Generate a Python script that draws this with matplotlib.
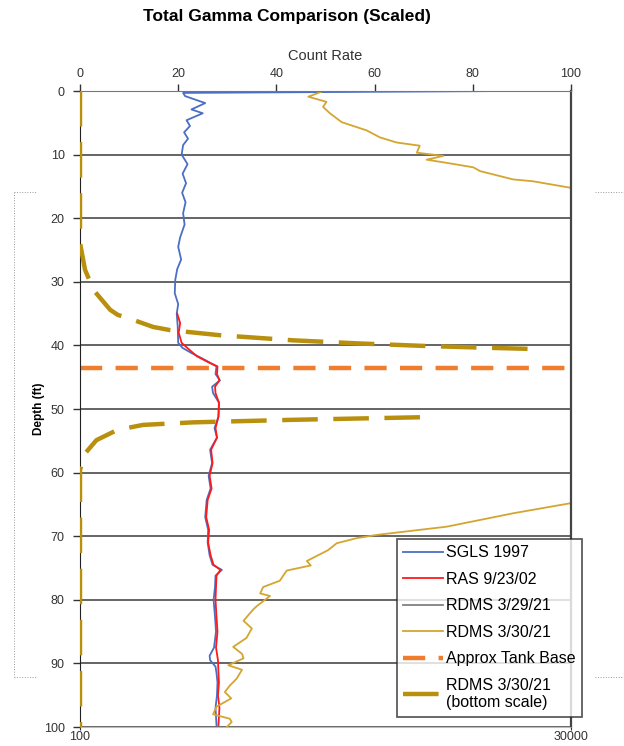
import numpy as np
import matplotlib
matplotlib.use('Agg')
import matplotlib.pyplot as plt
from matplotlib.lines import Line2D

plt.rcParams['font.family'] = ['Liberation Sans', 'DejaVu Sans']

# SGLS 1997 (count rate vs depth)
sgls_depth = [0.0, 0.3, 0.8, 1.9, 2.9, 3.5, 4.6, 5.5, 6.5, 7.5, 8.5, 10.0, 11.5, 13.0,
              14.5, 16.0, 17.5, 19.2, 21.0, 23.0, 24.5, 26.5, 28.0, 29.7, 31.8, 33.5,
              35.0, 37.0, 39.6, 40.4, 41.2, 42.3, 43.3, 44.5, 45.5, 46.5, 47.5, 49.0,
              51.2, 53.0, 54.5, 56.4, 58.5, 60.5, 62.5, 64.3, 67.0, 69.0, 71.0, 73.0,
              74.5, 75.3, 76.2, 78.0, 80.0, 82.7, 85.0, 87.5, 88.8, 89.5, 90.5, 91.5,
              93.0, 95.0, 97.0, 99.7]
sgls_count = [87.0, 21.0, 21.4, 25.5, 22.7, 25.0, 21.7, 22.4, 21.2, 22.0, 21.0, 20.7, 21.9,
              20.9, 21.6, 20.8, 21.5, 21.0, 21.3, 20.4, 20.0, 20.6, 19.8, 19.4, 19.3, 20.0,
              19.7, 19.9, 20.0, 20.9, 22.7, 25.5, 27.8, 27.6, 28.5, 26.9, 27.1, 28.3,
              28.2, 27.4, 27.9, 26.5, 26.9, 26.2, 26.6, 25.8, 25.5, 26.1, 26.0, 26.4,
              27.0, 28.9, 27.6, 27.5, 27.2, 27.5, 27.7, 27.3, 26.4, 26.5, 27.6, 27.8,
              28.0, 27.9, 27.6, 27.8]

# RAS 9/23/02
ras_depth = [35.0, 36.5, 38.0, 39.6, 40.5, 41.7, 42.6, 43.3, 44.5, 45.5, 46.5, 47.5, 49.0,
             51.2, 53.0, 54.5, 56.4, 58.5, 60.5, 62.5, 64.3, 67.0, 69.0, 71.0, 73.0,
             74.5, 75.3, 76.2, 78.0, 80.0, 82.7, 85.0, 87.5, 89.5, 91.5, 93.0, 95.0,
             97.0, 99.7]
ras_count = [19.8, 20.4, 20.1, 20.7, 22.0, 23.8, 26.0, 28.0, 27.9, 28.4, 27.5, 27.6, 28.3,
             28.2, 27.6, 27.9, 26.7, 27.0, 26.4, 26.8, 26.0, 25.7, 26.3, 26.1, 26.6,
             27.2, 28.6, 27.8, 27.7, 27.6, 27.8, 28.0, 27.7, 28.1, 28.2, 28.3, 28.1,
             28.4, 28.2]

# RDMS 3/29/21
rdms29_depth = [0.0, 0.0]
rdms29_count = [87.0, 100.0]

# RDMS 3/30/21 (top scale)
rdms30_depth = [0.1, 0.9, 1.7, 2.5, 3.5, 4.9, 6.2, 7.3, 8.1, 8.6, 9.7, 10.2, 10.8, 11.3,
                12.0, 12.6, 13.9, 14.2, 15.2, np.nan,
                64.8, 66.4, 68.5, 69.8, 70.3, 71.1, 72.2, 72.6, 73.9, 74.6, 75.4, 77.0,
                78.0, 79.0, 79.4, 81.0, 81.5, 83.3, 84.5, 86.0, 87.4, 88.5, 89.2, 90.3,
                91.0, 92.4, 93.5, 94.5, 95.5, 96.8, 98.0, 98.7, 99.2, 100.0]
rdms30_count = [49.2, 46.5, 50.2, 49.5, 50.9, 53.3, 58.4, 61.1, 64.5, 69.2, 68.6, 74.0, 70.6,
                74.7, 80.1, 81.5, 88.2, 92.3, 99.8, np.nan,
                100.0, 88.2, 74.7, 60.4, 56.4, 52.3, 50.5, 49.5, 46.2, 47.0, 42.1, 40.7,
                37.3, 36.7, 38.7, 36.0, 35.3, 33.3, 35.0, 33.9, 31.2, 33.0, 33.3, 30.2,
                33.0, 31.9, 30.5, 29.5, 30.8, 27.8, 27.1, 30.5, 30.9, 29.9]

# Approx Tank Base
tank_depth = [43.5, 43.5]
tank_count = [0, 100]

# RDMS 3/30/21 (bottom scale, log)
rdms30b_depth = [0.0, 10.0, 20.0, 23.9, 28.1, 31.3, 34.4, 35.2, 36.0, 37.1, 37.6, 38.4,
                 39.2, 39.7, 40.1, 40.4, 40.6, np.nan,
                 51.3, 51.7, 52.1, 52.5, 53.3, 54.9, 57.0, 59.6, 65.0, 80.0, 100.0]
rdms30b_value = [100, 100, 100, 100, 106, 117, 142, 155, 186, 234, 285, 508,
                 1187, 2590, 5640, 12130, 21680, np.nan,
                 5190, 1187, 372, 208, 154, 121, 106, 100, 100, 100, 100]

fig = plt.figure(figsize=(6.24, 7.46), dpi=100)
ax = fig.add_axes([80/624, 1-727/746, 491/624, 636/746])

ax.plot(sgls_count, sgls_depth, color='#4a6fc4', lw=1.3, label='SGLS 1997')
ax.plot(ras_count, ras_depth, color='#ff1a1a', lw=1.3, label='RAS 9/23/02')
ax.plot(rdms29_count, rdms29_depth, color='#808080', lw=1.3, label='RDMS 3/29/21')
ax.plot(rdms30_count, rdms30_depth, color='#d4a530', lw=1.3, label='RDMS 3/30/21')
ax.plot(tank_count, tank_depth, color='#f07d2e', lw=3.2, dashes=(5.0, 3.0),
        label='Approx Tank Base')

# bottom (log) scale for the long RDMS run
ax2 = ax.twiny()
ax2.set_xscale('log')
ax2.plot(rdms30b_value, rdms30b_depth, color='#b8900e', lw=3.2, dashes=(8, 3.5),
         label='RDMS 3/30/21\n(bottom scale)')
ax2.set_xlim(100, 30000)
ax2.set_ylim(100, 0)
ax2.xaxis.tick_bottom()
ax2.set_xticks([100, 30000])
ax2.set_xticklabels(['100', '30000'])
ax2.minorticks_off()
ax2.tick_params(axis='x', labelsize=9, colors='#333333', length=2, pad=1)
for s in ax2.spines.values():
    s.set_visible(False)

ax.set_xlim(0, 100)
ax.set_ylim(100, 0)
ax.set_yticks(np.arange(0, 101, 10))
ax.set_xticks(np.arange(0, 101, 20))
ax.grid(axis='y', color='#3a3a3a', lw=1.1)
ax.set_axisbelow(True)
ax.xaxis.tick_top()
ax.xaxis.set_label_position('top')
ax.set_xlabel('Count Rate', fontsize=10.5, color='#333333', labelpad=6)
ax.set_ylabel('Depth (ft)', fontsize=8.5, fontweight='bold')
ax.yaxis.set_label_coords(-35/491, 0.5)
ax.tick_params(axis='both', labelsize=9, colors='#333333', length=5, width=1, pad=6)
ax.tick_params(axis='x', pad=3)
ax.spines['left'].set_color('#222222')
ax.spines['right'].set_color('#444444')
ax.spines['right'].set_linewidth(1.6)
ax.spines['top'].set_color('#777777')
ax.spines['bottom'].set_color('#bbbbbb')

h1, l1 = ax.get_legend_handles_labels()
h2, l2 = ax2.get_legend_handles_labels()
leg = fig.legend(h1 + h2, l1 + l2, loc='upper left',
                 bbox_to_anchor=(397/624, 1-539/746), frameon=True, fancybox=False,
                 edgecolor='#222222', fontsize=11.5, handlelength=2.5, handletextpad=0.15,
                 labelspacing=0.72, borderpad=0.4, borderaxespad=0)
leg.get_frame().set_linewidth(1.2)

fig.text(287/624, 1-17/746, 'Total Gamma Comparison (Scaled)', ha='center', va='center',
         fontsize=12.5, fontweight='bold')

# dotted bracket marks around the figure
dot = dict(color='#999999', lw=0.7, ls=':', transform=fig.transFigure)
fig.add_artist(Line2D([14/624, 14/624], [1-192/746, 1-677/746], **dot))
fig.add_artist(Line2D([14/624, 36/624], [1-192/746, 1-192/746], **dot))
fig.add_artist(Line2D([14/624, 36/624], [1-677/746, 1-677/746], **dot))
fig.add_artist(Line2D([595/624, 624/624], [1-192/746, 1-192/746], **dot))
fig.add_artist(Line2D([595/624, 624/624], [1-677/746, 1-677/746], **dot))

fig.savefig('out.png', dpi=100)
